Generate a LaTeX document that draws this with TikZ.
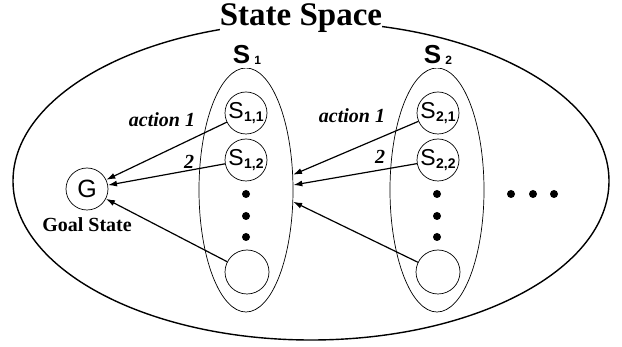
\documentclass[tikz,border=0pt]{standalone}
\usepackage{fontspec}
\setmainfont{Liberation Serif}
\setsansfont{Liberation Sans}
\usetikzlibrary{arrows.meta,positioning,shapes.geometric}
\newcommand{\sname}[1]{S\kern0.5pt\raisebox{-3pt}{\fontsize{14}{14}\selectfont\bfseries #1}}
\newcommand{\setname}[1]{S\kern4pt\raisebox{-1pt}{\fontsize{12}{12}\selectfont #1}}

\begin{document}
\begin{tikzpicture}[x=1pt,y=-1pt,
  state/.style={draw,circle,line width=0.7pt,minimum size=42pt,inner sep=0pt,font=\sffamily\fontsize{23}{23}\selectfont},
  stateset/.style={draw,ellipse,line width=0.7pt,minimum width=94pt,minimum height=244pt,inner sep=0pt},
  setlabel/.style={fill=white,anchor=base,inner xsep=0pt,inner ysep=3pt,font=\sffamily\bfseries\fontsize{26}{26}\selectfont},
  act/.style={font=\bfseries\itshape\fontsize{20}{20}\selectfont},
  arr/.style={line width=1.2pt,-{Latex[length=9pt,width=6pt]}}]
  \useasboundingbox (0,0) rectangle (622,347);
  % whole state space
  \node[draw,ellipse,line width=1.4pt,minimum width=596pt,minimum height=318pt,inner sep=0pt] (space) at (311,181) {};
  \node[fill=white,inner sep=0pt,anchor=base,font=\bfseries\fontsize{33}{33}\selectfont] (title) at (301,26) {State Space};
  % the two sets
  \node[stateset] (set1) at (246,190) {};
  \node[stateset] (set2) at (437,190) {};
  \node[setlabel] (lab1) at (247,64) {\setname{1}};
  \node[setlabel] (lab2) at (438,64) {\setname{2}};
  % states
  \node[state] (s11) at (246,113) {\sname{1,1}};
  \node[state] (s12) at (246,160) {\sname{1,2}};
  \node[state,minimum size=44pt] (s1n) at (247,272) {};
  \node[state] (s21) at (438,113) {\sname{2,1}};
  \node[state] (s22) at (438,160) {\sname{2,2}};
  \node[state,minimum size=44pt] (s2n) at (438,272) {};
  \node[state,font=\sffamily\fontsize{25}{25}\selectfont] (goal) at (87,189) {G};
  \node[anchor=base,font=\bfseries\fontsize{20}{20}\selectfont] (goallab) at (87,232) {Goal State};
  % dots
  \foreach \x in {246,437}
    \foreach \y in {194,216,237} \fill (\x,\y) circle (4pt);
  \foreach \x in {511,533,554} \fill (\x,194) circle (4pt);
  % actions
  \draw[arr] (s11) -- (goal);
  \draw[arr] (s12) -- (goal);
  \draw[arr] (s1n) -- (goal);
  \draw[arr] (s21) -- (set1.18);
  \draw[arr] (s22) -- (set1.6);
  \draw[arr] (s2n) -- (set1.-14);
  \node[act] (act1) at (162,120) {action 1};
  \node[act] (two1) at (189,162) {2};
  \node[act] (act2) at (352,116) {action 1};
  \node[act] (two2) at (380,157) {2};
\end{tikzpicture}
\end{document}
